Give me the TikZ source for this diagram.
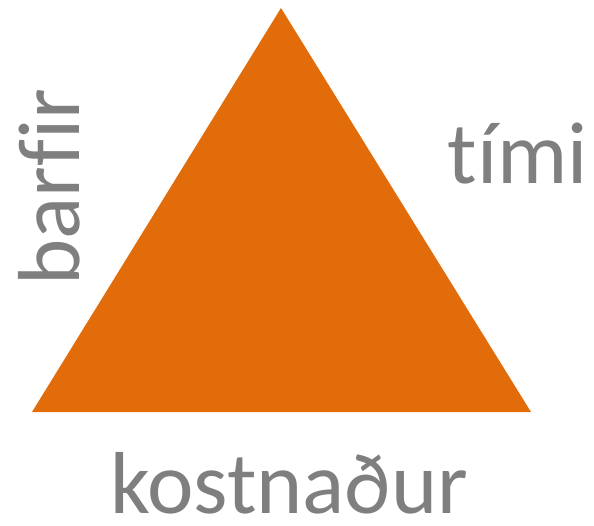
\documentclass[tikz,border=0pt]{standalone}
\usepackage{fontspec}
\setmainfont[Ligatures=NoCommon]{Carlito}
\definecolor{triorange}{HTML}{E36C0A}
\definecolor{labelgray}{HTML}{7F7F7F}
\begin{document}
\begin{tikzpicture}[
    x=1pt, y=-1pt,
    side/.style={text=labelgray, font=\fontsize{88}{88}\selectfont, inner sep=0pt, text depth=0pt, anchor=base}
]
    \useasboundingbox (0,0) rectangle (594,526);

    % Triangle
    \coordinate (top) at (281,8);
    \coordinate (left) at (32,412);
    \coordinate (right) at (531,412);
    \fill[triorange] (top) -- (right) -- (left) -- cycle;

    % Side labels
    \node[side] (cost) at (289,513) {kostnaður};
    \node[side] (time) at (518,184) {tími};
    \node[side, rotate=90] (needs) at (79,187) {barfir};
\end{tikzpicture}
\end{document}
